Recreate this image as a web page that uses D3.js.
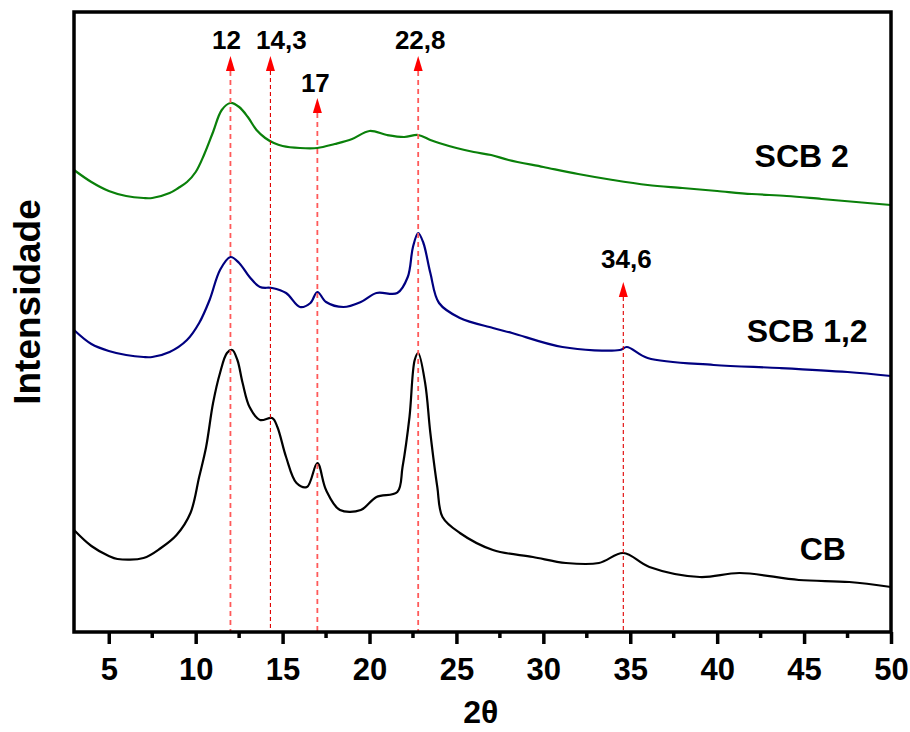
<!DOCTYPE html>
<meta charset="utf-8">
<script src="https://d3js.org/d3.v7.min.js"></script>
<style>
  body { margin: 0; background: #fff; }
  text { font-family: "Liberation Sans", Arial, sans-serif; font-weight: bold; }
</style>
<div id="my_dataviz"></div>
<script>
    // traced curves (2theta in degrees, intensity in arbitrary units, offsets included)
    var cbAngle = [3, 4, 5, 5.5, 7, 8, 8.9, 9.7, 10.2, 10.6, 11, 11.4, 11.8, 12.1, 12.4, 12.7, 13.1, 13.7, 14.4, 14.7,
        15.2, 15.8, 16.4, 17, 17.5, 18.3, 19.5, 20.4, 21.6, 21.9, 22.3, 22.6, 22.8, 23.2, 23.5, 23.9, 24.2, 25.2,
        27.1, 29.4, 31.3, 33.2, 34.6, 36.1, 39, 41.3, 44.7, 47.6, 50];
    var cbInt = [102, 86, 76, 73, 74, 84, 97, 119, 155, 185, 229, 259, 279, 282, 272, 249, 225, 212, 214, 205,
        175, 149, 145, 169, 142, 122, 122, 135, 140, 165, 215, 272, 279, 249, 199, 145, 115, 99,
        82, 75, 69, 69, 79, 65, 55, 59, 52, 50, 45];

    var scb12Angle = [3, 4, 5, 6, 7, 7.5, 8.5, 9.5, 10.2, 10.8, 11.4, 12, 12.5, 13.1, 13.7, 14.4, 15.2, 16, 16.6, 17,
        17.5, 18.5, 19.5, 20.4, 21.6, 22.2, 22.5, 22.8, 23.1, 23.5, 24, 25.2, 27.1, 28.2, 31.1, 34.4, 34.8, 36,
        39.8, 43.6, 47.5, 50];
    var scb12Int = [302, 288, 281, 277, 275, 275, 280, 292, 309, 332, 362, 375, 369, 355, 345, 344, 339, 325, 329, 340,
        330, 325, 330, 339, 339, 355, 385, 399, 389, 359, 329, 314, 304, 299, 285, 282, 285, 274,
        267, 264, 260, 256];

    var scb2Angle = [3, 4, 5, 6, 7, 7.5, 8.5, 9, 9.5, 10, 10.5, 11, 11.5, 12, 12.5, 13, 13.5, 14, 14.5, 15, 16, 17,
        18, 19, 20, 21, 22, 22.8, 23.5, 24, 25, 26, 27, 28, 30, 32, 34, 36, 38, 40, 42, 44, 46, 48, 50];
    var scb2Int = [462, 450, 441, 436, 434, 434, 439, 444, 450, 460, 478, 500, 522, 529, 525, 515, 502, 494, 489, 486, 484, 484,
        488, 493, 501, 497, 495, 497, 492, 489, 484, 480, 477, 472, 465, 458, 452, 447, 444, 441, 438, 436, 433, 430, 427];

    // peak markers
    var peakAngle = [12, 14.3, 17, 22.8, 34.6];
    var peakLabel = ["12", "14,3", "17", "22,8", "34,6"];
    var peakTip = [576, 576, 534, 576, 350];

    var xTicks = [5, 10, 15, 20, 25, 30, 35, 40, 45, 50];
    var xMinor = [7.5, 12.5, 17.5, 22.5, 27.5, 32.5, 37.5, 42.5, 47.5];

    var margin = { top: 12, right: 19, bottom: 100, left: 74 },
        width = 910 - margin.left - margin.right,
        height = 732 - margin.top - margin.bottom;

    var svg = d3.select("#my_dataviz")
        .append("svg")
        .attr("width", 910)
        .attr("height", 732)
        .append("g")
        .attr("transform", "translate(" + margin.left + "," + margin.top + ")");

    var x = d3.scaleLinear().domain([3, 50]).range([0, width]);
    var y = d3.scaleLinear().domain([0, 620]).range([height, 0]);

    var line = d3.line()
        .x(function (d) { return x(d[0]); })
        .y(function (d) { return y(d[1]); })
        .curve(d3.curveCatmullRom.alpha(0.5));

    var series = [
        { name: "CB", a: cbAngle, v: cbInt, color: "#000000", lx: 44.75, ly: 72 },
        { name: "SCB 1,2", a: scb12Angle, v: scb12Int, color: "#000080", lx: 41.7, ly: 290 },
        { name: "SCB 2", a: scb2Angle, v: scb2Int, color: "#0a800a", lx: 42.15, ly: 465 }
    ];

    series.forEach(function (s) {
        svg.append("path")
            .datum(d3.zip(s.a, s.v))
            .attr("fill", "none")
            .attr("stroke", s.color)
            .attr("stroke-width", 2.2)
            .attr("stroke-linejoin", "round")
            .attr("d", line);
        svg.append("text")
            .attr("x", x(s.lx))
            .attr("y", y(s.ly))
            .attr("font-size", 32)
            .attr("fill", "#000")
            .text(s.name);
    });

    // dashed guide lines + arrows
    var light = [true, false, true, true, false];
    var labelDx = [-4, 11, -2, 2, 3];
    var labelGap = [7, 7, 6, 7, 14];
    peakAngle.forEach(function (p, i) {
        var px = x(p), tip = y(peakTip[i]);
        svg.append("line")
            .attr("x1", px).attr("x2", px)
            .attr("y1", tip + 15).attr("y2", height)
            .attr("stroke", light[i] ? "#ff5a5a" : "#e00000")
            .attr("stroke-width", light[i] ? 1.8 : 1.1)
            .attr("stroke-dasharray", light[i] ? "5,4" : "4,3");
        svg.append("path")
            .attr("d", "M" + px + "," + tip + "L" + (px + 4.5) + "," + (tip + 15) + "L" + (px - 4.5) + "," + (tip + 15) + "Z")
            .attr("fill", "#ff0000");
        svg.append("text")
            .attr("x", px + labelDx[i])
            .attr("y", tip - labelGap[i])
            .attr("text-anchor", "middle")
            .attr("font-size", 26)
            .text(peakLabel[i]);
    });

    // frame
    svg.append("rect")
        .attr("width", width).attr("height", height)
        .attr("fill", "none")
        .attr("stroke", "#000")
        .attr("stroke-width", 3.5);

    // x axis
    var xAxis = svg.append("g")
        .attr("transform", "translate(0," + height + ")")
        .call(d3.axisBottom(x).tickValues(xTicks).tickSize(12).tickSizeOuter(0).tickPadding(14));
    xAxis.select(".domain").remove();
    xAxis.selectAll(".tick line").attr("stroke-width", 3.5);
    xAxis.selectAll(".tick text").attr("font-size", 31).attr("font-family", "Liberation Sans, Arial").attr("font-weight", "bold").attr("fill", "#000");

    svg.append("g")
        .selectAll("line")
        .data(xMinor)
        .enter()
        .append("line")
        .attr("x1", function (d) { return x(d); })
        .attr("x2", function (d) { return x(d); })
        .attr("y1", height).attr("y2", height + 6)
        .attr("stroke", "#000")
        .attr("stroke-width", 3.5);

    // axis titles
    svg.append("text")
        .attr("x", x(26.4))
        .attr("y", height + 91)
        .attr("text-anchor", "middle")
        .attr("font-size", 32)
        .text("2θ");

    svg.append("text")
        .attr("transform", "translate(" + (40 - margin.left) + "," + (302 - margin.top) + ") rotate(-90)")
        .attr("text-anchor", "middle")
        .attr("font-size", 37)
        .text("Intensidade");
</script>
